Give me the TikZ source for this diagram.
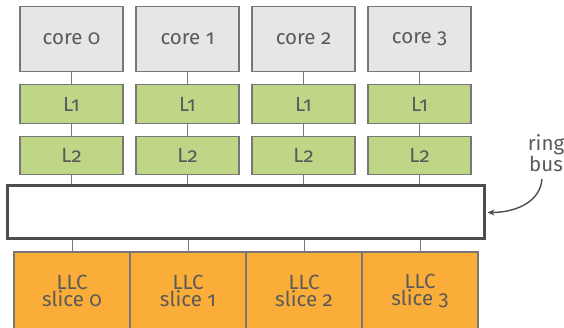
\documentclass[tikz,border=0pt]{standalone}
\usepackage{fontspec}
\setmainfont{Fira Sans}[Numbers=OldStyle]
\usetikzlibrary{positioning}
\usetikzlibrary{arrows.meta}
\definecolor{coregray}{HTML}{E6E6E6}
\definecolor{cachegreen}{HTML}{BFD686}
\definecolor{llcorange}{HTML}{FBAD3A}
\definecolor{linegray}{HTML}{777777}
\definecolor{textgray}{HTML}{5A5A5A}
\definecolor{busgray}{HTML}{4D4D4D}

\tikzset{
  box/.style={draw=linegray, line width=1.2pt, inner sep=0pt, outer sep=0pt,
    minimum width=103pt, text=textgray, font=\fontsize{20.5}{17}\selectfont},
  core/.style={box, fill=coregray, minimum height=65pt},
  cache/.style={box, fill=cachegreen, minimum height=38.6pt},
  slice/.style={box, fill=llcorange, minimum width=116pt, minimum height=78pt, align=center},
  link/.style={draw=linegray, line width=1pt}
}

\begin{document}
\begin{tikzpicture}[x=1pt, y=1pt]
  \useasboundingbox (0,0) rectangle (564,-328);

  % Define nodes
  \node[core] (c0) at (71.5,-39.2) {core 0};
  \node[core, right=13pt of c0] (c1) {core 1};
  \node[core, right=13pt of c1] (c2) {core 2};
  \node[core, right=13pt of c2] (c3) {core 3};

  \node[cache, below=13pt of c0] (la) {L1};
  \node[cache, below=13pt of c1] (lb) {L1};
  \node[cache, below=13pt of c2] (lc) {L1};
  \node[cache, below=13pt of c3] (ld) {L1};

  \node[cache, below=13pt of la] (ma) {L2};
  \node[cache, below=13pt of lb] (mb) {L2};
  \node[cache, below=13pt of lc] (mc) {L2};
  \node[cache, below=13pt of ld] (md) {L2};

  \node[draw=busgray, line width=3pt, fill=white, inner sep=0pt,
    minimum width=477pt, minimum height=53pt] (ring) at (245.5,-212.5) {};

  \node[slice] (s0) at (72,-291) {LLC\\slice 0};
  \node[slice, right=0pt of s0] (s1) {LLC\\slice 1};
  \node[slice, right=0pt of s1] (s2) {LLC\\slice 2};
  \node[slice, right=0pt of s2] (s3) {LLC\\slice 3};

  \node[text=textgray, align=center, font=\fontsize{20.5}{17}\selectfont]
    (label) at (546,-153) {ring\\bus};

  % Connect the nodes
  \draw[link] (c0) -- (la) (c1) -- (lb) (c2) -- (lc) (c3) -- (ld);
  \draw[link] (la) -- (ma) (lb) -- (mb) (lc) -- (mc) (ld) -- (md);
  \foreach \m in {ma,mb,mc,md}
    \draw[link] (\m.south) -- (\m.south |- ring.north);
  \foreach \s in {s0,s1,s2,s3}
    \draw[link] (\s.north) -- (\s.north |- ring.south);

  \draw[draw=busgray, line width=1.4pt, -{Stealth[length=7pt,width=6pt]}]
    (label.south) ++(-4,-4) coordinate (tail)
    (tail) to[out=-95, in=0] ([xshift=2pt]ring.east);

\end{tikzpicture}
\end{document}
